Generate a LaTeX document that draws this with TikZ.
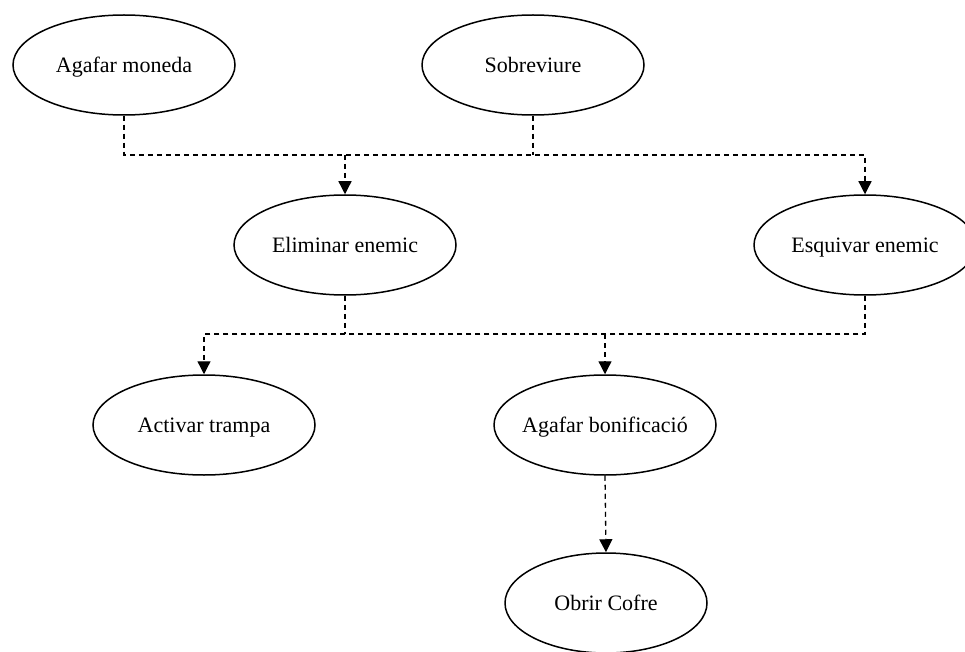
\documentclass[tikz,border=0pt]{standalone}
\usepackage{fontspec}
\setmainfont{Liberation Serif}
\usetikzlibrary{arrows.meta,shapes.geometric}
\begin{document}
\begin{tikzpicture}[x=1pt,y=-1pt,
  usecase/.style={draw=black,line width=1.5pt,ellipse,minimum width=222pt,minimum height=100pt,inner sep=0pt,
    font=\fontsize{22}{26}\selectfont,text depth=0pt},
  dl/.style={draw=black,line width=1.3pt,dash pattern=on 5pt off 4pt},
  arr/.style={dl,-{Triangle[length=13pt,width=13pt]}}]
\useasboundingbox (0,0) rectangle (965,652);
\node[usecase] (m) at (124,65) {Agafar moneda};
\node[usecase] (s) at (533,65) {Sobreviure};
\node[usecase] (el) at (345,245) {Eliminar enemic};
\node[usecase] (eq) at (865,245) {Esquivar enemic};
\node[usecase] (at) at (204,425) {Activar trampa};
\node[usecase,inner xsep=-5pt] (ab) at (605,425) {Agafar bonificació};
\node[usecase,minimum width=202pt] (oc) at (606,603) {Obrir Cofre};
\coordinate (b1) at (865,155);
\coordinate (b2) at (204,334);
\draw[arr] (m.south) |- (b1) -- (eq.north);
\draw[dl] (s.south) -- (s.south |- b1);
\draw[arr] (el.north |- b1) -- (el.north);
\draw[arr] (eq.south) |- (b2) -- (at.north);
\draw[dl] (el.south) -- (el.south |- b2);
\draw[arr] (ab.north |- b2) -- (ab.north);
\draw[arr] (ab.south) -- (oc.north);
\end{tikzpicture}
\end{document}
